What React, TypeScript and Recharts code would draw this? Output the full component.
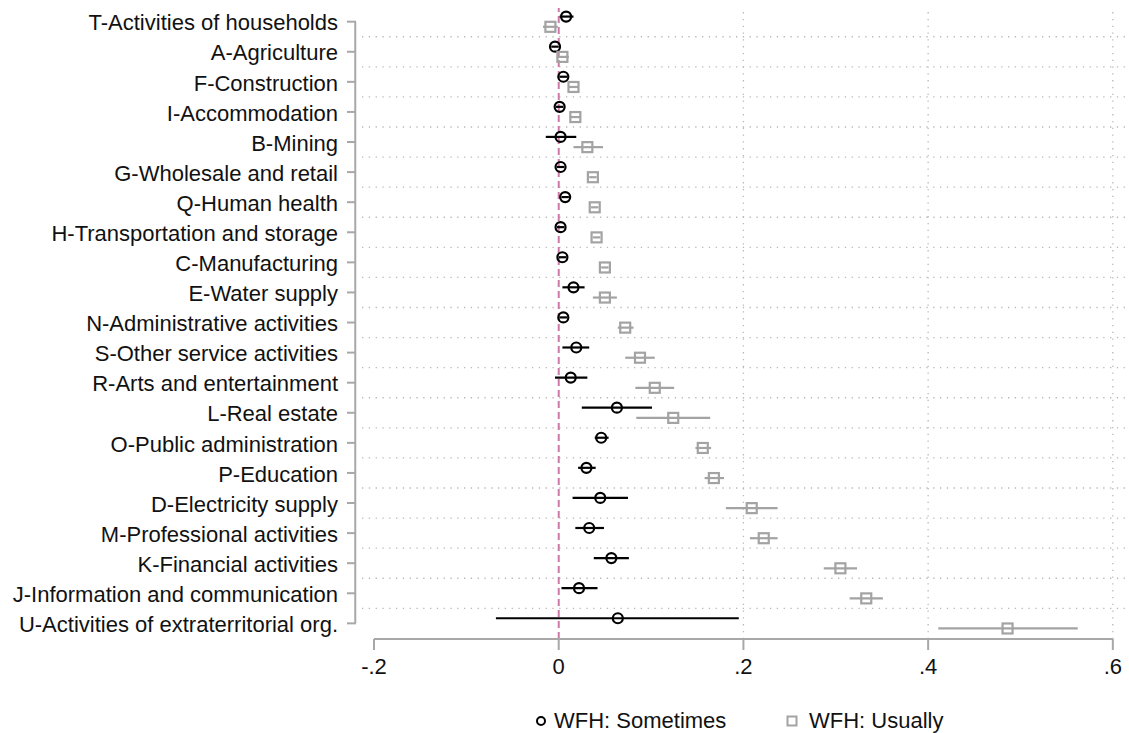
import { ScatterChart, Scatter, XAxis, YAxis, ErrorBar, ReferenceLine, Legend } from 'recharts'

const categories = [
  'T-Activities of households',
  'A-Agriculture',
  'F-Construction',
  'I-Accommodation',
  'B-Mining',
  'G-Wholesale and retail',
  'Q-Human health',
  'H-Transportation and storage',
  'C-Manufacturing',
  'E-Water supply',
  'N-Administrative activities',
  'S-Other service activities',
  'R-Arts and entertainment',
  'L-Real estate',
  'O-Public administration',
  'P-Education',
  'D-Electricity supply',
  'M-Professional activities',
  'K-Financial activities',
  'J-Information and communication',
  'U-Activities of extraterritorial org.',
]

// WFH: Sometimes (point estimate, lower and upper CI)
const sometimesCoef = [0.008, -0.004, 0.005, 0.001, 0.002, 0.002, 0.007, 0.002, 0.004, 0.016, 0.005, 0.019, 0.013, 0.063, 0.046, 0.030, 0.045, 0.033, 0.057, 0.022, 0.064]
const sometimesLo = [0.001, -0.008, 0.001, -0.003, -0.014, -0.002, 0.003, -0.002, 0.000, 0.004, 0.001, 0.004, -0.004, 0.025, 0.039, 0.021, 0.015, 0.018, 0.038, 0.003, -0.068]
const sometimesHi = [0.016, 0.000, 0.009, 0.005, 0.019, 0.006, 0.011, 0.006, 0.008, 0.028, 0.009, 0.033, 0.031, 0.101, 0.054, 0.040, 0.075, 0.049, 0.076, 0.042, 0.195]

// WFH: Usually
const usuallyCoef = [-0.009, 0.004, 0.016, 0.018, 0.031, 0.037, 0.039, 0.041, 0.050, 0.050, 0.072, 0.088, 0.104, 0.124, 0.156, 0.168, 0.209, 0.222, 0.305, 0.333, 0.486]
const usuallyLo = [-0.017, -0.002, 0.010, 0.012, 0.016, 0.033, 0.035, 0.037, 0.046, 0.037, 0.064, 0.072, 0.083, 0.084, 0.148, 0.158, 0.181, 0.207, 0.287, 0.315, 0.411]
const usuallyHi = [-0.001, 0.011, 0.022, 0.024, 0.048, 0.041, 0.043, 0.045, 0.054, 0.063, 0.081, 0.104, 0.125, 0.164, 0.165, 0.179, 0.237, 0.237, 0.323, 0.351, 0.562]

const xTicks = [-0.2, 0, 0.2, 0.4, 0.6]

const FONT = '"Liberation Sans", Arial, sans-serif'
const AXIS_GRAY = '#a8a8a8'
const GRID_GRAY = '#b8b8b8'
const USUAL_GRAY = '#a3a3a3'
const SHIFT = 0.17

const buildRows = (coef: number[], lo: number[], hi: number[], shift: number) =>
  coef.map((c, i) => ({
    name: categories[i],
    x: c,
    y: i + 1 + shift,
    err: [c - lo[i], hi[i] - c],
  }))

const sometimesData = buildRows(sometimesCoef, sometimesLo, sometimesHi, -SHIFT)
const usuallyData = buildRows(usuallyCoef, usuallyLo, usuallyHi, SHIFT)

const catIdx = categories.map((_, i) => i + 1)
const gridY = catIdx.slice(0, -1).map((i) => i + 0.5)

const fmtX = (v: number) => (v === 0 ? '0' : String(v).replace('0.', '.'))

const CatTick = (props: any) => {
  const { x, y, payload } = props
  return (
    <g>
      <line x1={x - 15} x2={x - 6} y1={y} y2={y} stroke={AXIS_GRAY} strokeWidth={2} />
      <text x={x - 24} y={y + 1} dy="0.35em" textAnchor="end" fontFamily={FONT} fontSize={22} fill="#111">
        {categories[payload.value - 1]}
      </text>
    </g>
  )
}

const Circle = (props: any) => (
  <circle cx={props.cx} cy={props.cy} r={5} fill="none" stroke="#000" strokeWidth={2.2} />
)

const Square = (props: any) => (
  <rect x={props.cx - 5} y={props.cy - 5} width={10} height={10} fill="none" stroke={USUAL_GRAY} strokeWidth={2.2} />
)

const LegendBox = () => (
  <div style={{ width: 1129, height: 54, position: 'relative', fontFamily: FONT, fontSize: 22, color: '#111' }}>
    <div style={{ position: 'absolute', left: 534, top: 29, display: 'flex', alignItems: 'center' }}>
      <svg width={14} height={14}>
        <circle cx={7} cy={7} r={4} fill="none" stroke="#000" strokeWidth={2} />
      </svg>
      <span style={{ marginLeft: 6 }}>WFH: Sometimes</span>
    </div>
    <div style={{ position: 'absolute', left: 785, top: 29, display: 'flex', alignItems: 'center' }}>
      <svg width={14} height={14}>
        <rect x={2.5} y={2.5} width={9} height={9} fill="none" stroke={USUAL_GRAY} strokeWidth={2} />
      </svg>
      <span style={{ marginLeft: 10 }}>WFH: Usually</span>
    </div>
  </div>
)

export default function App() {
  return (
    <div style={{ position: 'absolute', left: 0, top: 0, background: '#fff' }}>
      <ScatterChart width={1129} height={733} margin={{ top: 8, right: 0, bottom: 0, left: 0 }}>
        <XAxis
          type="number"
          dataKey="x"
          domain={[-0.213, 0.6175]}
          allowDataOverflow
          ticks={xTicks}
          tickFormatter={fmtX}
          axisLine={false}
          tickLine={{ stroke: AXIS_GRAY, strokeWidth: 2 }}
          tickSize={11}
          tickMargin={8}
          height={40}
          tick={{ fontFamily: FONT, fontSize: 22, fill: '#111' }}
        />
        <YAxis
          type="number"
          dataKey="y"
          domain={[0.545, 21.52]}
          allowDataOverflow
          reversed
          ticks={catIdx}
          interval={0}
          width={362}
          axisLine={false}
          tickLine={false}
          tickSize={0}
          tickMargin={0}
          tick={<CatTick />}
        />
        {gridY.map((g) => (
          <ReferenceLine key={'h' + g} y={g} stroke={GRID_GRAY} strokeWidth={1.3} strokeDasharray="1.3 5.5" />
        ))}
        {xTicks.slice(2).map((t) => (
          <ReferenceLine key={'v' + t} x={t} stroke={GRID_GRAY} strokeWidth={1.3} strokeDasharray="1.3 5.5" />
        ))}
        <ReferenceLine x={0} stroke="#cc79a7" strokeWidth={2} strokeDasharray="7 4" />
        <ReferenceLine
          segment={[{ x: -0.2, y: 21.52 }, { x: 0.6, y: 21.52 }]}
          stroke={AXIS_GRAY}
          strokeWidth={2}
          ifOverflow="visible"
        />
        <ReferenceLine
          segment={[{ x: -0.2203, y: 1 }, { x: -0.2203, y: 21 }]}
          stroke={AXIS_GRAY}
          strokeWidth={2}
          ifOverflow="visible"
        />
        <Legend verticalAlign="bottom" content={<LegendBox />} />
        <Scatter name="WFH: Sometimes" data={sometimesData} shape={<Circle />} isAnimationActive={false}>
          <ErrorBar dataKey="err" direction="x" width={0} stroke="#000" strokeWidth={2.2} isAnimationActive={false} />
        </Scatter>
        <Scatter name="WFH: Usually" data={usuallyData} shape={<Square />} isAnimationActive={false}>
          <ErrorBar dataKey="err" direction="x" width={0} stroke={USUAL_GRAY} strokeWidth={2.2} isAnimationActive={false} />
        </Scatter>
      </ScatterChart>
    </div>
  )
}
